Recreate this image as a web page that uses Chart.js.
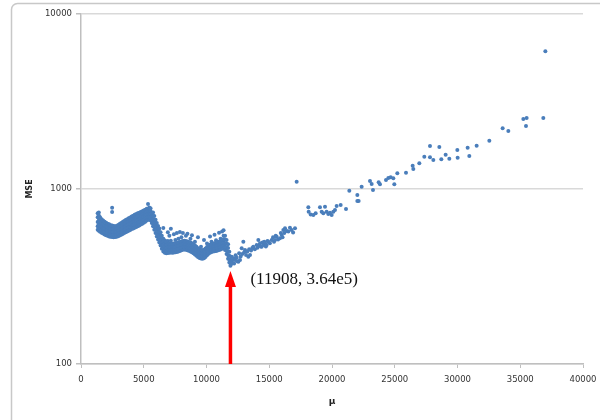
<!DOCTYPE html>
<html><head><meta charset="utf-8">
<script src="https://cdn.jsdelivr.net/npm/chart.js@4"></script>
<style>html,body{margin:0;padding:0;background:#fff}#c{display:block}</style>
</head><body>
<canvas id="c" width="600" height="420"></canvas>
<script>
// ---- data ----
const xTicks = [0, 5000, 10000, 15000, 20000, 25000, 30000, 35000, 40000];
const yTicks = [100, 1000, 10000];
const xTitle = 'μ';
const yTitle = 'MSE';

// dense band: each entry = [mu, MSE values observed at that mu ...]
const denseColumns = [
  [1330, 585, 612, 648, 690, 728],
  [1420, 578, 600, 628, 662, 705, 735],
  [1520, 570, 592, 618, 650, 690],
  [1640, 562, 585, 610, 640, 672],
  [1760, 556, 576, 600, 628, 660],
  [1880, 550, 570, 594, 620, 650],
  [2000, 545, 565, 588, 612, 642],
  [2120, 540, 560, 582, 606, 632],
  [2240, 536, 555, 576, 600, 628],
  [2360, 533, 552, 572, 596, 620],
  [2480, 532, 550, 570, 592, 618, 738, 782],
  [2600, 530, 548, 568, 590, 614],
  [2720, 531, 549, 569, 590, 612],
  [2840, 533, 552, 572, 594, 615],
  [2960, 537, 556, 577, 598, 622],
  [3080, 542, 562, 584, 606, 630],
  [3200, 548, 569, 591, 614, 640],
  [3320, 554, 576, 598, 622, 648],
  [3440, 560, 582, 606, 630, 656],
  [3560, 566, 589, 613, 638, 664],
  [3680, 572, 596, 620, 646, 672],
  [3800, 578, 602, 627, 654, 680],
  [3920, 584, 608, 634, 661, 688],
  [4040, 590, 615, 641, 668, 696],
  [4160, 595, 621, 648, 675, 704],
  [4280, 600, 627, 654, 682, 712],
  [4400, 606, 633, 660, 689, 720],
  [4520, 612, 640, 667, 696, 726],
  [4640, 618, 646, 674, 703, 732],
  [4760, 626, 653, 681, 710, 740],
  [4880, 634, 661, 689, 718, 746],
  [5000, 642, 669, 697, 726, 754],
  [5120, 650, 677, 705, 734, 762],
  [5240, 660, 686, 714, 744, 772],
  [5340, 668, 694, 722, 752, 822],
  [5440, 672, 698, 728, 758, 785],
  [5540, 662, 690, 720, 750, 776],
  [5640, 640, 668, 698, 728],
  [5740, 612, 640, 670, 700, 735],
  [5840, 585, 612, 640, 668, 700],
  [5940, 560, 586, 612, 640, 668],
  [6040, 535, 560, 586, 612, 640],
  [6140, 515, 538, 562, 588, 615],
  [6240, 495, 518, 542, 568, 595],
  [6340, 475, 495, 518, 542, 566],
  [6440, 455, 474, 495, 517, 540],
  [6560, 440, 458, 477, 498, 520, 598],
  [6680, 432, 450, 469, 489, 508],
  [6800, 430, 447, 465, 484, 502],
  [6920, 431, 448, 466, 485, 505, 566],
  [7040, 432, 449, 467, 486, 540],
  [7160, 433, 450, 468, 487, 506, 592],
  [7280, 432, 449, 467, 486],
  [7400, 433, 450, 468, 488, 552],
  [7520, 435, 452, 470, 490, 512],
  [7640, 437, 454, 472, 492, 560],
  [7760, 440, 457, 475, 495, 520],
  [7880, 443, 460, 478, 498, 568],
  [8000, 446, 463, 481, 501, 530],
  [8120, 449, 466, 484, 504, 560],
  [8240, 451, 468, 486, 506],
  [8360, 450, 467, 485, 505, 540],
  [8480, 447, 464, 482, 502, 555],
  [8600, 444, 461, 479, 498],
  [8720, 440, 457, 475, 494, 520],
  [8840, 435, 452, 470, 489, 545],
  [8960, 429, 446, 464, 483],
  [9080, 422, 439, 456, 475, 500],
  [9200, 415, 431, 448, 467],
  [9320, 409, 424, 441, 459, 530],
  [9440, 404, 419, 435, 452],
  [9560, 401, 415, 431, 448, 468],
  [9680, 399, 413, 429, 446],
  [9800, 402, 416, 432, 449, 512],
  [9920, 409, 424, 440, 457],
  [10040, 418, 433, 449, 466, 488],
  [10160, 426, 441, 457, 474],
  [10280, 432, 447, 463, 480, 535],
  [10400, 436, 451, 467, 484, 500],
  [10520, 439, 454, 470, 487],
  [10640, 441, 456, 472, 490, 548],
  [10760, 443, 458, 475, 493, 510],
  [10880, 445, 461, 478, 496],
  [11000, 448, 464, 481, 499, 562],
  [11120, 451, 467, 485, 504, 520],
  [11240, 455, 472, 490, 509, 572],
  [11360, 458, 476, 495, 516, 540, 582],
  [11480, 448, 468, 490, 514, 540],
  [11600, 425, 444, 465, 488, 512],
  [11720, 400, 418, 438, 460, 484],
  [11820, 380, 397, 416, 438]
];

// recovery after the minimum: [mu, MSE]
const recoveryPoints = [
  [11908, 364], [11950, 372], [11980, 388], [12005, 410], [12040, 380], [12100, 395],
  [12138, 402], [12200, 375], [12271, 393], [12320, 418], [12404, 405], [12450, 386],
  [12536, 384], [12600, 430], [12669, 393], [12720, 412], [12802, 458], [12850, 425],
  [12935, 500], [13000, 435], [13068, 448], [13150, 420], [13250, 440], [13333, 410],
  [13400, 452], [13466, 420], [13550, 445], [13650, 460], [13732, 468], [13850, 452],
  [13997, 479], [14060, 462], [14130, 511], [14200, 475], [14263, 489], [14330, 470],
  [14396, 468], [14460, 495], [14528, 479], [14600, 500], [14661, 489], [14730, 470],
  [14794, 479], [14860, 505], [14927, 500], [15050, 490], [15192, 511], [15300, 530],
  [15380, 500], [15458, 511], [15520, 540], [15591, 534], [15700, 515], [15856, 523],
  [15920, 560], [15989, 546], [16060, 530], [16122, 583], [16200, 560], [16255, 596],
  [16400, 575], [16520, 571], [16650, 600], [16786, 583], [16900, 565], [17052, 596]
];

// sparse tail: [mu, MSE]
const tailPoints = [
  [17184, 1101], [18114, 786], [18140, 742], [18300, 716], [18512, 710], [18698, 726],
  [19043, 786], [19176, 742], [19309, 726], [19442, 793], [19574, 742], [19707, 720],
  [19840, 732], [19973, 710], [20106, 742], [20238, 759], [20371, 800], [20690, 810],
  [21115, 769], [21380, 978], [22018, 924], [22018, 854], [22124, 854], [22363, 1031],
  [23027, 1111], [23160, 1068], [23266, 987], [23718, 1092], [23824, 1063], [24302, 1126],
  [24488, 1156], [24674, 1166], [24886, 1151], [24966, 1063], [25205, 1229], [25896, 1240],
  [26427, 1359], [26480, 1301], [26958, 1402], [27356, 1530], [27808, 1761], [27808, 1517],
  [28074, 1464], [28552, 1738], [28711, 1477], [29056, 1571], [29348, 1490], [29986, 1671],
  [30012, 1510], [30809, 1723], [30942, 1544], [31526, 1769], [32536, 1889], [33598, 2222],
  [34050, 2145], [35245, 2512], [35510, 2545], [35457, 2291], [36838, 2545], [37000, 6120]
];

const minMu = 11908;
const arrowTipMSE = 340;
const arrowBaseMSE = 100;
const minLabel = '(11908, 3.64e5)';

// ---- build dataset ----
const points = [];
denseColumns.forEach(col => { for (let i = 1; i < col.length; i++) points.push({x: col[0], y: col[i]}); });
recoveryPoints.forEach(p => points.push({x: p[0], y: p[1]}));
tailPoints.forEach(p => points.push({x: p[0], y: p[1]}));

const framePlugin = {
  id: 'frame',
  beforeDraw(chart) {
    const ctx = chart.ctx;
    ctx.save();
    ctx.fillStyle = '#fff';
    ctx.fillRect(0, 0, chart.width, chart.height);
    ctx.strokeStyle = '#c8c8c8';
    ctx.lineWidth = 1.5;
    ctx.beginPath();
    ctx.roundRect(11.5, 3.5, 640, 460, 6);
    ctx.stroke();
    ctx.restore();
  }
};

const arrowPlugin = {
  id: 'arrow',
  afterDatasetsDraw(chart) {
    const {ctx, scales: {x, y}} = chart;
    const xp = x.getPixelForValue(minMu);
    const yTip = y.getPixelForValue(arrowTipMSE);
    const yBase = y.getPixelForValue(arrowBaseMSE);
    ctx.save();
    ctx.strokeStyle = '#ff0000';
    ctx.fillStyle = '#ff0000';
    ctx.lineWidth = 3.5;
    ctx.beginPath();
    ctx.moveTo(xp, yBase);
    ctx.lineTo(xp, yTip + 12);
    ctx.stroke();
    ctx.beginPath();
    ctx.moveTo(xp, yTip);
    ctx.lineTo(xp - 5.5, yTip + 16);
    ctx.lineTo(xp + 5.5, yTip + 16);
    ctx.closePath();
    ctx.fill();
    ctx.fillStyle = '#111';
    ctx.font = '17px "Liberation Serif", "Times New Roman", serif';
    ctx.textBaseline = 'alphabetic';
    ctx.textAlign = 'left';
    ctx.fillText(minLabel, xp + 20, yTip + 13);
    ctx.restore();
  }
};

const tickFont = {family: 'DejaVu Sans', size: 8.5};

new Chart(document.getElementById('c'), {
  type: 'scatter',
  data: {datasets: [{
    data: points,
    backgroundColor: '#4a7ebb',
    borderColor: '#4a7ebb',
    borderWidth: 0,
    pointRadius: 2,
    pointHoverRadius: 2
  }]},
  options: {
    responsive: false,
    animation: false,
    devicePixelRatio: 1,
    layout: {autoPadding: false, padding: {left: 0, right: 17, top: 14, bottom: 0}},
    plugins: {legend: {display: false}, tooltip: {enabled: false}},
    scales: {
      x: {
        type: 'linear', min: 0, max: 40000,
        afterBuildTicks: s => { s.ticks = xTicks.map(v => ({value: v})); },
        afterFit: s => { s.height = 56; s.paddingLeft = 0; s.paddingRight = 0; },
        grid: {drawOnChartArea: false, drawTicks: true, tickLength: 4, tickColor: '#bfbfbf', lineWidth: 1},
        border: {display: true, color: '#bfbfbf', width: 1.5},
        ticks: {font: tickFont, color: '#333', padding: 7, maxRotation: 0, autoSkip: false, callback: v => String(v)},
        title: {display: true, text: xTitle, font: {family: 'DejaVu Sans', size: 9, weight: 'bold'}, color: '#222', padding: {top: 0, bottom: 13}}
      },
      y: {
        type: 'logarithmic', min: 100, max: 10000,
        afterBuildTicks: s => { s.ticks = yTicks.map(v => ({value: v})); },
        afterFit: s => { s.width = 81; s.paddingTop = 0; s.paddingBottom = 0; },
        grid: {color: '#d9d9d9', lineWidth: 1.5, drawTicks: true, tickLength: 5, tickColor: '#bfbfbf'},
        border: {display: true, color: '#bfbfbf', width: 1.5},
        ticks: {font: tickFont, color: '#333', padding: 4, autoSkip: false, callback: v => String(v)},
        title: {display: true, text: yTitle, font: {family: 'DejaVu Sans', size: 8, weight: 'bold'}, color: '#222', padding: {top: 25, bottom: 0}}
      }
    }
  },
  plugins: [framePlugin, arrowPlugin]
});
</script>
</body></html>
